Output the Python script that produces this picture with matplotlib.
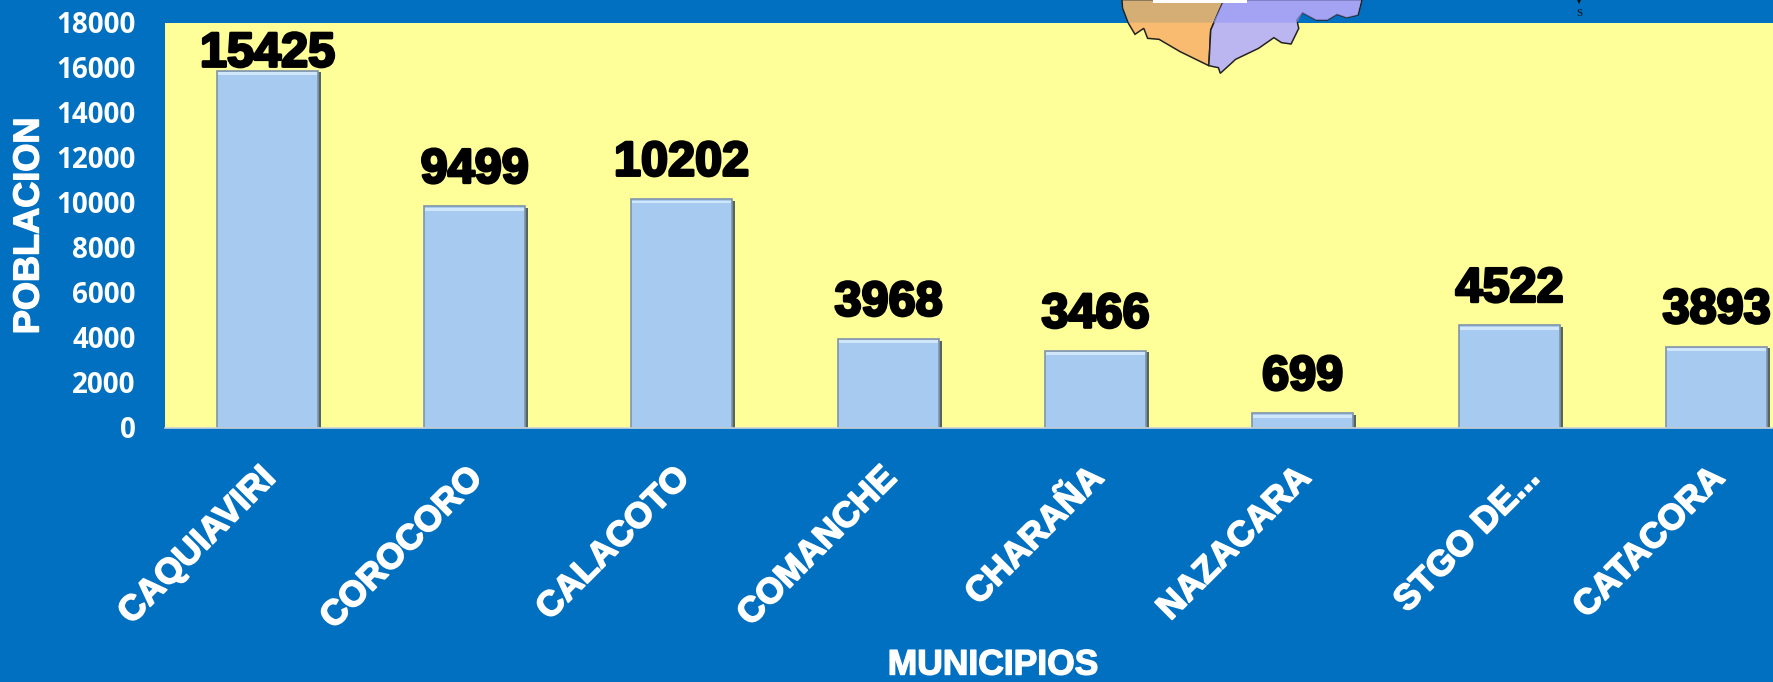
import matplotlib
matplotlib.use("Agg")
import matplotlib.pyplot as plt
import matplotlib.patheffects as pe
from matplotlib.patches import Polygon, Rectangle
from matplotlib.transforms import ScaledTranslation

municipios = ["CAQUIAVIRI", "COROCORO", "CALACOTO", "COMANCHE", "CHARAÑA", "NAZACARA", "STGO DE...", "CATACORA"]
# bar heights as drawn, the printed labels do not quite agree with them
alturas = [15880, 9850, 10170, 3950, 3420, 650, 4560, 3620]
etiquetas = [15425, 9499, 10202, 3968, 3466, 699, 4522, 3893]
yticks = [0, 2000, 4000, 6000, 8000, 10000, 12000, 14000, 16000, 18000]

azul = "#0270c0"
W, H = 1773, 682

fig = plt.figure(figsize=(17.73, 6.82), dpi=100, facecolor=azul)
ax = fig.add_axes([165 / W, 1 - 428 / H, 1 - 165 / W, 405 / H], facecolor="#ffff99")

x = list(range(len(municipios)))
sombra = [pe.SimplePatchShadow(offset=(2, -1), shadow_rgbFace="#2c3e50", alpha=0.8), pe.Normal()]
ax.bar(x, alturas, width=0.49, color="#a6caf0", edgecolor="#7f95ab", linewidth=1.2, path_effects=sombra, zorder=2)
# light strip along the top of each bar
ax.bar(x, [130] * len(x), bottom=[a - 190 for a in alturas], width=0.478, color="#cfe6fb", zorder=3)

for i, (a, e) in enumerate(zip(alturas, etiquetas)):
    off = 12 if i == 0 else 26
    ax.annotate(str(e), (i, a), xytext=(0, off), textcoords="offset points", ha="center", va="center",
                fontsize=35, fontweight="bold", family="Liberation Sans", color="black", clip_on=False,
                path_effects=[pe.withStroke(linewidth=2.0, foreground="black")], zorder=5)

ax.set_xlim(-0.495, (W - 165) / 207 - 0.495)
ax.set_ylim(0, 18000)
ax.set_yticks(yticks)
ax.set_yticklabels([str(t) for t in yticks], fontsize=20, fontweight="bold", family="Open Sans", color="white")
ax.tick_params(axis="y", length=0, pad=21)
for t in ax.get_yticklabels():
    t.set_transform(t.get_transform() + ScaledTranslation(0, 1 / 100, fig.dpi_scale_trans))
ax.set_xticks(x)
ax.set_xticklabels(municipios, rotation=45, ha="right", va="top", rotation_mode="anchor",
                   fontsize=25.5, fontweight="bold", family="Liberation Sans", color="white",
                   path_effects=[pe.withStroke(linewidth=1.2, foreground="white")])
ax.tick_params(axis="x", length=0, pad=24)
for t in ax.get_xticklabels():
    # the truncated label sits further right in the original
    dx = 13 if t.get_text() == "STGO DE..." else -9
    t.set_transform(t.get_transform() + ScaledTranslation(dx / 100, 0, fig.dpi_scale_trans))
for s in ["top", "right", "left"]:
    ax.spines[s].set_visible(False)
ax.spines["bottom"].set_color("#c9d3da")
ax.spines["bottom"].set_linewidth(1.2)

fig.text(993 / W, 1 - 665 / H, "MUNICIPIOS", ha="center", va="center", fontsize=25.5, fontweight="bold",
         family="Liberation Sans", color="white", path_effects=[pe.withStroke(linewidth=1.0, foreground="white")])
fig.text(29 / W, 1 - 226 / H, "POBLACION", ha="center", va="center", rotation=90, fontsize=26, fontweight="bold",
         family="Liberation Sans", color="white", path_effects=[pe.withStroke(linewidth=1.0, foreground="white")])

# piece of the map pasted over the top of the chart (crop pixel coords: 2.613x across, 3x down)
def mapa(puntos):
    return [((1050 + px / 2.613) / W, 1 - (py / 3) / H) for px, py in puntos]

naranja = [(188, 0), (190, 25), (205, 70), (222, 103), (245, 85), (255, 115), (285, 118), (340, 155), (415, 197),
           (420, 90), (450, 10), (455, 0)]
morado = [(455, 0), (450, 10), (420, 90), (415, 197), (440, 203), (445, 220), (485, 178), (545, 145), (585, 113),
          (605, 128), (630, 132), (650, 85), (645, 60), (660, 38), (695, 60), (725, 60), (750, 43), (775, 53),
          (805, 45), (815, 0)]
fig.add_artist(Polygon(mapa(naranja), closed=True, facecolor="#f9bb70", edgecolor="#222222", linewidth=1.1))
fig.add_artist(Polygon(mapa(morado), closed=True, facecolor="#bcb6f0", edgecolor="#222222", linewidth=1.1))
fig.add_artist(Polygon(mapa([(190, 0), (192, 25), (206, 68), (424, 68), (449, 10), (454, 0)]), closed=True,
                       facecolor="#b8a47a", alpha=0.55, edgecolor="none"))
fig.add_artist(Polygon(mapa([(456, 0), (451, 10), (426, 68), (645, 68), (660, 39), (695, 60), (725, 60), (750, 43),
                             (775, 53), (804, 45), (813, 0)]), closed=True, facecolor="#9a9cf5", alpha=0.7,
                       edgecolor="none"))
fig.add_artist(Rectangle((1153 / W, 1 - 3 / H), 94 / W, 3 / H, facecolor="white", edgecolor="none"))
fig.text(1579 / W, 1 - 14 / H, "S", ha="center", va="center", fontsize=8, family="Liberation Serif", color="#111111")
fig.add_artist(Polygon([(1577 / W, 1), (1581 / W, 1), (1579 / W, 1 - 4 / H)], closed=True, facecolor="#111111",
                       edgecolor="none"))

plt.savefig("out.png", dpi=100, facecolor=azul)
